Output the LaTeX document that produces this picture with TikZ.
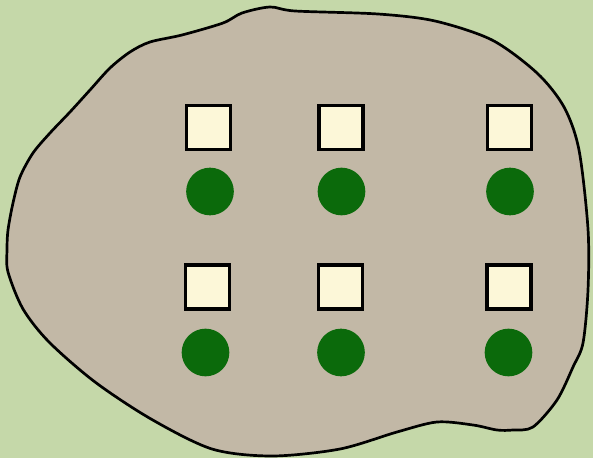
\documentclass[tikz,border=0pt]{standalone}
\usepackage{tikz}
\usetikzlibrary{positioning}
\definecolor{fieldgreen}{RGB}{197,216,169}
\definecolor{plotsoil}{RGB}{194,184,166}
\definecolor{slabcream}{RGB}{252,247,216}
\definecolor{shrubgreen}{RGB}{11,106,11}
\begin{document}
\begin{tikzpicture}[x=0.03cm, y=-0.03cm,
  slab/.style={draw=black, line width=2.6pt, fill=slabcream, minimum size=1.32cm, inner sep=0pt},
  shrub/.style={circle, fill=shrubgreen, minimum size=1.43cm, inner sep=0pt}]
  % Background
  \fill[fieldgreen] (0,0) rectangle (593,458);
  \useasboundingbox (0,0) rectangle (593,458);
  % Plot outline
  \draw[black, line width=2.3pt, fill=plotsoil] plot[smooth cycle, tension=0.5] coordinates {
    (7,250) (8,230) (13,203) (20,177) (33,153) (50,133) (70,112) (90,90)
    (110,68) (130,52) (150,42) (182,35) (223,23) (242,13) (270,7) (295,11)
    (378,14) (435,21) (492,40) (537,73) (564,107) (579,150) (588,229)
    (588,290) (583,343) (573,367) (557,400) (533,427) (513,430) (497,430)
    (473,425) (437,422) (397,432) (340,449) (272,456) (212,449) (151,419)
    (95,382) (49,342) (23,309) (8,272)};
  % Slabs, upper and lower row
  \foreach \n/\x/\y in {a/208.5/127.5, b/341/127.5, c/509.5/127.5,
                        d/207.5/287, e/340.5/287, f/509/287}{
    \node[slab] (slab-\n) at (\x,\y) {};
  }
  % Shrubs below the slabs
  \foreach \n/\x/\y in {a/210/191.5, b/341.5/191.5, c/510/191.5,
                        d/205.5/352.5, e/341/352.5, f/508.5/352.5}{
    \node[shrub] (shrub-\n) at (\x,\y) {};
  }
\end{tikzpicture}
\end{document}
